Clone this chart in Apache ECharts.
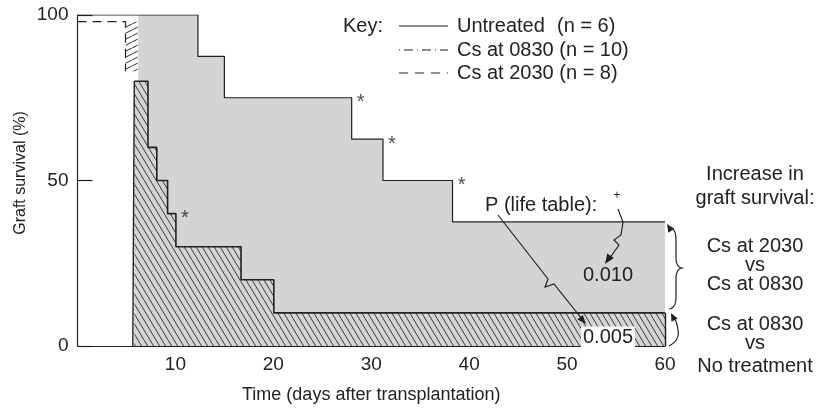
<!DOCTYPE html>
<html><head><meta charset="utf-8">
<script src="https://cdn.jsdelivr.net/npm/echarts@6/dist/echarts.min.js"></script>
<style>html,body{margin:0;padding:0;background:#fff}#c{width:819px;height:409px}</style>
</head><body><div id="c"></div>
<script>
// ---- data ----
const untreatedX = [0, 12.3, 15, 28, 31.2, 38.3, 60];
const untreatedY = [100, 87.5, 75, 62.5, 50, 37.5, 37.5];
const cs0830X = [5.8, 7.2, 8.1, 9.2, 10.05, 16.7, 20.05, 60];
const cs0830Y = [80, 60, 50, 40, 30, 20, 10, 10];
const cs2030X = [0, 4.9, 4.9];
const cs2030Y = [98, 98, 83];
const grayStartX = 6.2;
const boxX = [4.9, 6.15];
const boxY = [83, 98];
const asteriskX = [28, 31.2, 38.3, 10.05];
const asteriskY = [75, 62.5, 50, 40];
const xTickLabels = ['10', '20', '30', '40', '50', '60'];
const yTickLabels = ['0', '50', '100'];

const FONT = "'Liberation Sans', Arial, sans-serif";
const INK = '#222';
const GRAY = '#d3d4d6';

function zip(xs, ys) { return xs.map((x, i) => [x, ys[i]]); }
function valueAt(xs, ys, x) { let v = ys[0]; for (let i = 0; i < xs.length; i++) if (xs[i] <= x) v = ys[i]; return v; }
function hatch(w, h, bg, dir, lw) {
  const c = document.createElement('canvas'); c.width = w; c.height = h;
  const g = c.getContext('2d');
  if (bg) { g.fillStyle = bg; g.fillRect(0, 0, w, h); }
  g.strokeStyle = '#2a2a2a'; g.lineWidth = lw || 1; g.beginPath();
  for (let k = -1; k <= 1; k++) {
    if (dir === '\\') { g.moveTo(k * w, 0); g.lineTo(k * w + w, h); }
    else { g.moveTo(k * w, h); g.lineTo(k * w + w, 0); }
  }
  g.stroke(); return c;
}

const untreated = zip(untreatedX, untreatedY);
const grayData = [[grayStartX, valueAt(untreatedX, untreatedY, grayStartX)]]
  .concat(untreated.filter(p => p[0] > grayStartX));
const cs0830 = zip(cs0830X, cs0830Y);
const cs2030 = zip(cs2030X, cs2030Y);
const lastI = cs0830X.length - 1;

const chart = echarts.init(document.getElementById('c'), null, { renderer: 'canvas' });

function arrowHead(tip, from, len, half) {
  const dx = tip[0] - from[0], dy = tip[1] - from[1];
  const d = Math.hypot(dx, dy), ux = dx / d, uy = dy / d;
  const bx = tip[0] - ux * len, by = tip[1] - uy * len;
  return { type: 'polygon', z: 100, shape: { points: [tip, [bx - uy * half, by + ux * half], [bx + uy * half, by - ux * half]] }, style: { fill: INK } };
}
function txt(x, y, s, size, align, extra) {
  return { type: 'text', z: 100, x: x, y: y, style: Object.assign({ text: s, font: size + 'px ' + FONT, fill: INK, textAlign: align || 'center', textVerticalAlign: 'middle' }, extra || {}) };
}
function seg(p, dash, w) {
  return { type: 'polyline', z: 100, shape: { points: p }, style: { stroke: INK, lineWidth: w || 1.2, fill: null, lineDash: dash || null } };
}
// quadratic bezier chain sampled into points: pieces = [[p0, c, p1], ...]
function curve(pieces) {
  const pts = [];
  pieces.forEach(([a, c, b]) => {
    for (let i = 0; i <= 12; i++) {
      const t = i / 12, u = 1 - t;
      pts.push([u * u * a[0] + 2 * u * t * c[0] + t * t * b[0], u * u * a[1] + 2 * u * t * c[1] + t * t * b[1]]);
    }
  });
  return seg(pts);
}

const plusPath = [[618, 209], [623, 222], [621, 235], [614, 240], [619, 245], [609, 259]];
const pPath = [[498, 215], [548, 279], [545, 287], [554, 284], [582, 319]];

const graphics = [
  // y axis name
  { type: 'text', z: 100, x: 21, y: 173, rotation: Math.PI / 2, style: { text: 'Graft survival (%)', font: '16px ' + FONT, fill: INK, textAlign: 'center', textVerticalAlign: 'middle' } },
  // key
  txt(343, 26, 'Key:', 20, 'left'),
  seg([[399, 26], [448, 26]]),
  seg([[399, 50], [448, 50]], [1, 4, 9, 4]),
  seg([[399, 73], [448, 73]], [9, 7]),
  txt(457, 26, 'Untreated', 20, 'left'),
  txt(557, 26, '(n = 6)', 20, 'left'),
  txt(457, 50, 'Cs at 0830 (n = 10)', 20, 'left'),
  txt(457, 73, 'Cs at 2030 (n = 8)', 20, 'left'),
  // right-hand notes
  txt(755, 174, 'Increase in', 20),
  txt(755, 198, 'graft survival:', 20),
  txt(755, 246, 'Cs at 2030', 20),
  txt(755, 265, 'vs', 20),
  txt(755, 284, 'Cs at 0830', 20),
  txt(755, 324, 'Cs at 0830', 20),
  txt(755, 343, 'vs', 20),
  txt(755, 366, 'No treatment', 20),
  // braces
  curve([[[670, 227], [676, 229], [676, 240]], [[676, 240], [676, 249], [676, 258]], [[676, 258], [676, 267], [682, 268]],
         [[682, 268], [676, 269], [676, 279]], [[676, 279], [676, 288], [676, 297]], [[676, 297], [676, 308], [669, 309]]]),
  arrowHead([667, 224], [672, 232], 8, 3.5),
  curve([[[669, 346], [680, 340], [678, 330]], [[678, 330], [677, 322], [674, 318]]]),
  arrowHead([671, 313], [675, 321], 8, 3.5),
  // P annotations
  txt(485, 205, 'P (life table):', 20, 'left'),
  txt(617, 196, '+', 12),
  seg(plusPath),
  arrowHead([605, 264], [611, 255], 10, 4),
  seg(pPath),
  arrowHead([586, 324], [580, 317], 9, 3.5),
  txt(608, 275, '0.010', 20),
  txt(608, 337, '0.005', 20, 'center', { backgroundColor: '#fff', padding: [1, 2, 0, 2] })
];

const option = {
  animation: false,
  backgroundColor: '#fff',
  grid: { left: 77.5, top: 15, width: 587.5, height: 333, containLabel: false },
  xAxis: {
    type: 'value', min: 0, max: 60, interval: 10,
    name: 'Time (days after transplantation)', nameLocation: 'middle', nameGap: 40,
    nameTextStyle: { fontFamily: FONT, fontSize: 18, color: INK },
    axisLine: { show: true, onZero: false, lineStyle: { color: INK, width: 1.2 } },
    axisTick: { show: true, inside: true, length: 16, lineStyle: { color: INK, width: 1.2 } },
    axisLabel: { showMinLabel: false, margin: 9, fontFamily: FONT, fontSize: 19, color: INK,
      formatter: v => xTickLabels[xTickLabels.indexOf(String(v))] || '' },
    splitLine: { show: false }
  },
  yAxis: {
    type: 'value', min: 0, max: 100, interval: 50,
    axisLine: { show: true, lineStyle: { color: INK, width: 1.2 } },
    axisTick: { show: true, inside: true, length: 15, lineStyle: { color: INK, width: 1.2 } },
    axisLabel: { margin: 9, fontFamily: FONT, fontSize: 19, color: INK,
      formatter: v => yTickLabels[yTickLabels.indexOf(String(v))] || '' },
    splitLine: { show: false }
  },
  series: [
    { name: 'gray', type: 'line', step: 'end', data: grayData, symbol: 'none', z: 1,
      lineStyle: { width: 0, opacity: 0 }, areaStyle: { color: GRAY, opacity: 1 } },
    { name: 'Cs at 0830', type: 'line', step: 'end', data: cs0830, symbol: 'none', z: 3,
      lineStyle: { color: INK, width: 1.6 },
      areaStyle: { color: { image: hatch(6, 10, GRAY, '\\', 0.9), repeat: 'repeat' }, opacity: 1 },
      markLine: { silent: true, symbol: 'none', label: { show: false },
        lineStyle: { color: INK, width: 1.4, type: 'solid' },
        data: [
          [{ coord: [cs0830X[0] - 0.15, 0] }, { coord: [cs0830X[0], cs0830Y[0]] }],
          [{ coord: [cs0830X[lastI], 0] }, { coord: [cs0830X[lastI], cs0830Y[lastI]] }]
        ] } },
    { name: 'Cs at 2030', type: 'line', data: cs2030, symbol: 'none', z: 4,
      lineStyle: { color: INK, width: 1.2, type: [9, 6] },
      markArea: { silent: true, itemStyle: { color: { image: hatch(12, 6, '#fff', '/'), repeat: 'repeat' }, opacity: 1 },
        data: [[{ coord: [boxX[0], boxY[1]] }, { coord: [boxX[1], boxY[0]] }]] } },
    { name: 'Untreated', type: 'line', step: 'end', data: untreated, symbol: 'none', z: 5,
      lineStyle: { color: INK, width: 1.2 } },
    { name: 'asterisks', type: 'scatter', data: zip(asteriskX, asteriskY), symbol: 'circle', symbolSize: 2, z: 6,
      itemStyle: { color: 'rgba(0,0,0,0)' }, silent: true,
      label: { show: true, formatter: '*', position: 'inside', offset: [9, 5], fontFamily: FONT, fontSize: 20, color: INK } }
  ],
  graphic: graphics
};
chart.setOption(option);
</script></body></html>
